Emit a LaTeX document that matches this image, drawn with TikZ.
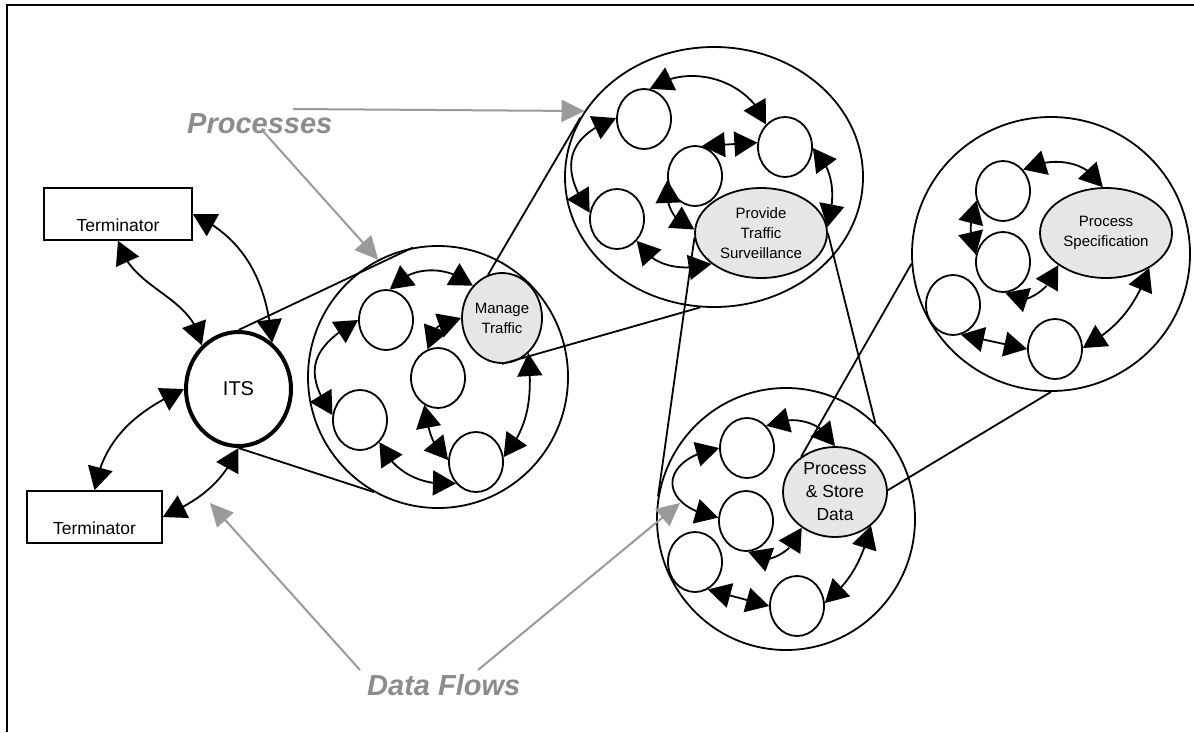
\documentclass[tikz,border=0pt]{standalone}
\usepackage{fontspec}
\setmainfont{Liberation Sans}
\usetikzlibrary{shapes.geometric,arrows.meta,bending}
\definecolor{procfill}{HTML}{E6E6E6}
\definecolor{arrgray}{HTML}{9A9A9A}
\definecolor{txtgray}{HTML}{8C8C8C}
\tikzset{
  ln/.style={line width=1.8pt},
  ctr/.style={ellipse, draw, line width=1.8pt, inner sep=0pt},
  proc/.style={ellipse, draw, line width=1.8pt, inner sep=0pt,
    minimum width=54pt, minimum height=60pt},
  named/.style={proc, fill=procfill, align=center,
    font=\fontsize{15}{20}\selectfont},
  term/.style={draw, line width=1.6pt, inner sep=0pt, minimum height=52pt,
    text height=34pt, text depth=0pt, font=\fontsize{17.5}{21}\selectfont},
  tipb/.tip={Triangle[length=23pt 0 0,width=25pt 0 0]},
  flow/.style={line width=1.8pt, tipb-tipb},
  garrow/.style={line width=2pt, draw=arrgray,
    -{Triangle[length=23pt 0 0,width=22pt 0 0,fill=arrgray]}},
  lbl/.style={inner sep=0pt, text=txtgray,
    font=\fontsize{29}{34}\selectfont\bfseries\itshape},
}
\begin{document}
\begin{tikzpicture}[x=1pt,y=-1pt]
\useasboundingbox (0,0) rectangle (1194,732);
% frame
\draw[line width=1.8pt] (6.8,732) -- (6.8,5.2) -- (1194,5.2);

% decomposition containers
\node[ctr, minimum width=260pt, minimum height=262pt] (c1) at (438,377) {};
\node[ctr, minimum width=298pt, minimum height=260pt] (c2) at (714,177) {};
\node[ctr, minimum width=278pt, minimum height=274pt] (c3) at (1051,254) {};
\node[ctr, minimum width=258pt, minimum height=262pt] (c4) at (786,519) {};

% context level
\node[term, minimum width=148pt] (t1) at (118,214) {Terminator};
\node[term, minimum width=135pt] (t2) at (94.5,517) {Terminator};
\node[ellipse, draw, line width=4pt, inner sep=0pt, minimum width=105pt,
  minimum height=114pt, font=\fontsize{20}{24}\selectfont] (its) at (238.5,389)
  {ITS\hspace{20pt}};

% level 1
\node[proc] (a) at (386,320) {};
\node[proc] (b) at (438,378) {};
\node[proc] (c) at (360,420) {};
\node[proc] (d) at (476,462) {};
\node[named, minimum width=80pt, minimum height=90pt] (mt) at (502,318)
  {Manage\\Traffic};

% level 2
\node[proc] (e) at (644,119) {};
\node[proc] (f) at (785,147) {};
\node[proc] (g) at (695,176) {};
\node[proc] (h) at (617,219) {};
\node[named, minimum width=132pt, minimum height=90pt] (pts) at (761,233)
  {Provide\\Traffic\\Surveillance};

% level 3
\node[proc] (i) at (747,448) {};
\node[proc] (j) at (746,521) {};
\node[proc] (k) at (695,562) {};
\node[proc] (l) at (797,606) {};
\node[named, minimum width=104pt, minimum height=90pt,
  font=\fontsize{17.5}{23}\selectfont] (psd) at (835,492)
  {Process\\\& Store\\Data};

% level 4
\node[proc] (m) at (1003,191) {};
\node[proc] (n) at (1003,262) {};
\node[proc] (o) at (953,305) {};
\node[proc] (p) at (1055,349) {};
\node[named, minimum width=132pt, minimum height=90pt] (ps) at (1106,233)
  {Process\\Specification};

% context flows
\draw[flow] (t1.south) to[out=-75,in=100] (its.130);
\draw[flow] (t1.east) to[out=-25,in=95] (its.54);
\draw[flow] (its.west) to[out=205,in=80] (t2.north);
\draw[flow] (t2.east) to[out=25,in=-115] (its.south);

% level 1 flows
\draw[flow] (a.83) to[out=50,in=140] (mt.132);
\draw[flow] (a.west) to[out=210,in=125,looseness=1.4] (c.170);
\draw[flow] (b.110) to[out=95,in=185] (mt.west);
\draw[flow] (b.243) to[out=-80,in=140] (d.176);
\draw[flow] (c.-49) to[out=-65,in=185] (d.227);
\draw[flow] (d.10) to[out=50,in=-85] (mt.-53);

% level 2 flows
\draw[flow] (e.79) to[out=35,in=110] (f.130);
\draw[flow] (g.77) -- (f.171);
\draw[flow] (e.178) to[out=200,in=125,looseness=1.4] (h.167);
\draw[flow] (g.188) to[out=-100,in=165] (pts.177);
\draw[flow] (h.-48) to[out=-60,in=195] (pts.212);
\draw[flow] (f.-2) to[out=-45,in=75] (pts.5);

% level 3 flows
\draw[flow] (i.49) to[out=25,in=115] (psd.north);
\draw[flow] (i.west) to[out=190,in=170,looseness=2.3] (j.173);
\draw[flow] (j.-86) to[out=-60,in=-100] (psd.227);
\draw[flow] (k.-65) -- (l.west);
\draw[flow] (l.6) to[out=40,in=-105] (psd.-43);

% level 4 flows
\draw[flow] (m.47) to[out=25,in=120] (ps.94);
\draw[flow] (m.200) to[out=-110,in=110] (n.165);
\draw[flow] (n.-86) to[out=-60,in=-100] (ps.214);
\draw[flow] (o.-75) -- (p.west);
\draw[flow] (p.2) to[out=30,in=-110] (ps.-39);

% decomposition lines
\draw[ln] (its.north) -- (c1.101);
\draw[ln] (its.south) -- (c1.241);
\draw[ln] (mt.108) -- (c2.156);
\draw[ln] (mt.south) -- (c2.264);
\draw[ln] (pts.184) -- (c4.170);
\draw[ln] (pts.east) -- (c4.47);
\draw[ln] (psd.134) -- (c3.184);
\draw[ln] (psd.2) -- (c3.south);

% callouts
\node[lbl, anchor=base west] (procs) at (187,133) {Processes};
\node[lbl, anchor=base west] (dflows) at (367,695) {Data Flows};
\coordinate (pA) at (293,109);
\coordinate (pB) at (262,130);
\coordinate (dA) at (360,670);
\coordinate (dB) at (478,670);
\coordinate (dT1) at (210,503);
\coordinate (dT2) at (680,503);
\draw[garrow] (pA) -- (c2.153);
\draw[garrow] (pB) -- (c1.117);
\draw[garrow] (dA) -- (dT1);
\draw[garrow] (dB) -- (dT2);
\end{tikzpicture}
\end{document}
